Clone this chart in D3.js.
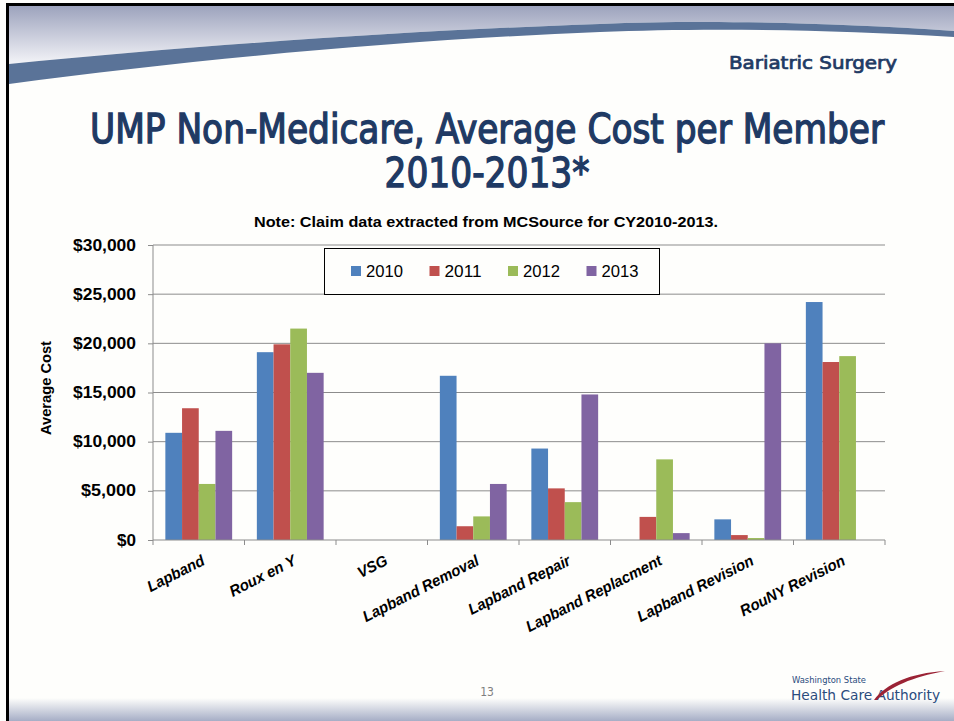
<!DOCTYPE html>
<html>
<head>
<meta charset="utf-8">
<script src="https://cdn.jsdelivr.net/npm/d3@7"></script>
<style>
  body { margin: 0; background: #ffffff; }
  svg { display: block; }
</style>
</head>
<body>
<div id="slide"></div>
<script>
var categories = ["Lapband", "Roux en Y", "VSG", "Lapband Removal", "Lapband Repair",
  "Lapband Replacment", "Lapband Revision", "RouNY Revision"];
var years = ["2010", "2011", "2012", "2013"];
var values2010 = [10900, 19100, 0, 16700, 9300, 0, 2100, 24200];
var values2011 = [13400, 19900, 0, 1400, 5250, 2350, 500, 18100];
var values2012 = [5700, 21500, 0, 2400, 3850, 8200, 200, 18700];
var values2013 = [11100, 17000, 0, 5700, 14800, 700, 20000, 0];
var yTicks = [0, 5000, 10000, 15000, 20000, 25000, 30000];
var colors = ["#4f81bd", "#c0504d", "#9bbb59", "#8064a2"];

var W = 954, H = 721;
var plotL = 153, plotR = 885, plotT = 245, plotB = 540;

var svg = d3.select("#slide").append("svg")
  .attr("width", W)
  .attr("height", H);

var defs = svg.append("defs");
var topGrad = defs.append("linearGradient")
  .attr("id", "topGrad").attr("x1", 0).attr("y1", 0).attr("x2", 0).attr("y2", 1);
topGrad.append("stop").attr("offset", "0%").attr("stop-color", "#9da3bd");
topGrad.append("stop").attr("offset", "100%").attr("stop-color", "#f4f4f8");
var botGrad = defs.append("linearGradient")
  .attr("id", "botGrad").attr("x1", 0).attr("y1", 0).attr("x2", 0).attr("y2", 1);
botGrad.append("stop").attr("offset", "0%").attr("stop-color", "#fefefc");
botGrad.append("stop").attr("offset", "100%").attr("stop-color", "#a6aec6");

// slide background
svg.append("rect")
  .attr("x", 0).attr("y", 0).attr("width", W).attr("height", H)
  .style("fill", "#fefefc");

// header swoosh: gradient area above, dark band below
svg.append("path")
  .attr("d", "M9,6 L954,6 L954,31 C820,22 700,20 600,24 C420,30 200,45 9,64 Z")
  .style("fill", "url(#topGrad)");
svg.append("path")
  .attr("d", "M9,64 C200,45 420,30 600,24 C700,20 820,22 954,31 L954,37 C820,29 700,28 600,32 C420,39 200,58 9,84 Z")
  .style("fill", "#5a7398");

// bottom band
svg.append("rect")
  .attr("x", 9).attr("y", 698).attr("width", W - 9).attr("height", H - 698)
  .style("fill", "url(#botGrad)");

// black frame (top and left)
svg.append("rect").attr("x", 6).attr("y", 3).attr("width", W - 6).attr("height", 3).style("fill", "#000");
svg.append("rect").attr("x", 6).attr("y", 3).attr("width", 3).attr("height", H - 3).style("fill", "#000");

svg.append("text")
  .attr("x", 897).attr("y", 69)
  .style("font-family", "'DejaVu Sans Condensed', sans-serif")
  .style("font-size", "18px")
  .style("text-anchor", "end")
  .style("fill", "#1f3a64")
  .style("stroke", "#1f3a64")
  .style("stroke-width", 0.7)
  .attr("textLength", 168)
  .attr("lengthAdjust", "spacingAndGlyphs")
  .text("Bariatric Surgery");

svg.append("text")
  .attr("x", 487).attr("y", 143)
  .style("font-family", "'DejaVu Sans Condensed', sans-serif")
  .style("font-size", "40px")
  .style("text-anchor", "middle")
  .style("fill", "#1f3a64")
  .style("stroke", "#1f3a64")
  .style("stroke-width", 1.3)
  .attr("textLength", 794)
  .attr("lengthAdjust", "spacingAndGlyphs")
  .text("UMP Non-Medicare, Average Cost per Member");

svg.append("text")
  .attr("x", 487).attr("y", 187)
  .style("font-family", "'DejaVu Sans Condensed', sans-serif")
  .style("font-size", "40px")
  .style("text-anchor", "middle")
  .style("fill", "#1f3a64")
  .style("stroke", "#1f3a64")
  .style("stroke-width", 1.3)
  .attr("textLength", 205)
  .attr("lengthAdjust", "spacingAndGlyphs")
  .text("2010-2013*");

svg.append("text")
  .attr("x", 486).attr("y", 227)
  .style("font-family", "'Liberation Sans', sans-serif")
  .style("font-size", "15px")
  .style("font-weight", "bold")
  .style("text-anchor", "middle")
  .style("fill", "#000")
  .attr("textLength", 464)
  .attr("lengthAdjust", "spacingAndGlyphs")
  .text("Note: Claim data extracted from MCSource for CY2010-2013.");

// scales
var x0 = d3.scaleBand().domain(categories).range([plotL, plotR]).padding(0);
var bw = x0.bandwidth();
var x1 = d3.scaleBand().domain(years).range([bw * 0.135, bw * 0.865]).padding(0);
var y = d3.scaleLinear().domain([0, 30000]).range([plotB, plotT]);

// gridlines
svg.append("g")
  .selectAll("line")
  .data(yTicks.slice(1))
  .join("line")
  .attr("x1", plotL).attr("x2", plotR)
  .attr("y1", function(d) { return y(d); })
  .attr("y2", function(d) { return y(d); })
  .style("stroke", "#8c8c8c")
  .style("stroke-width", 1);

// y axis
var yAxis = svg.append("g")
  .attr("transform", "translate(" + plotL + ",0)")
  .call(d3.axisLeft(y).tickValues(yTicks).tickSize(5).tickPadding(12)
    .tickFormat(function(d) { return "$" + d3.format(",")(d); }));
yAxis.select(".domain").style("stroke", "#8c8c8c").attr("d", "M0," + plotT + "V" + plotB);
yAxis.selectAll(".tick line").style("stroke", "#8c8c8c");
yAxis.selectAll("text")
  .style("font-family", "'Liberation Sans', sans-serif")
  .style("font-size", "16px")
  .style("font-weight", "bold")
  .style("fill", "#000")
  .attr("textLength", function(d) { return d === 0 ? 19 : (d < 10000 ? 55 : 63); })
  .attr("lengthAdjust", "spacingAndGlyphs");

svg.append("text")
  .attr("transform", "translate(51,388) rotate(-90)")
  .style("font-family", "'Liberation Sans', sans-serif")
  .style("font-size", "15px")
  .style("font-weight", "bold")
  .style("text-anchor", "middle")
  .style("fill", "#000")
  .attr("textLength", 94)
  .attr("lengthAdjust", "spacingAndGlyphs")
  .text("Average Cost");

// bars
var series = [values2010, values2011, values2012, values2013];
var barData = [];
categories.forEach(function(c, i) {
  years.forEach(function(yr, j) {
    barData.push({ cat: c, year: yr, value: series[j][i], color: colors[j] });
  });
});

svg.append("g")
  .selectAll("rect")
  .data(barData.filter(function(d) { return d.value > 0; }))
  .join("rect")
  .attr("x", function(d) { return x0(d.cat) + x1(d.year); })
  .attr("y", function(d) { return y(d.value); })
  .attr("width", x1.bandwidth())
  .attr("height", function(d) { return plotB - y(d.value); })
  .style("fill", function(d) { return d.color; });

// x axis
var xAxis = svg.append("g")
  .attr("transform", "translate(0," + plotB + ")");
xAxis.append("line")
  .attr("x1", plotL).attr("x2", plotR)
  .style("stroke", "#8c8c8c");
xAxis.selectAll(".tk")
  .data(d3.range(categories.length + 1))
  .join("line")
  .attr("class", "tk")
  .attr("x1", function(i) { return plotL + i * bw; })
  .attr("x2", function(i) { return plotL + i * bw; })
  .attr("y1", 0).attr("y2", 5)
  .style("stroke", "#8c8c8c");
xAxis.selectAll(".lbl")
  .data(categories)
  .join("text")
  .attr("class", "lbl")
  .attr("transform", function(d) {
    return "translate(" + (x0(d) + bw / 2 + 7) + ",24) rotate(-27)";
  })
  .style("font-family", "'Liberation Sans', sans-serif")
  .style("font-size", "15.5px")
  .style("font-weight", "bold")
  .style("font-style", "italic")
  .style("text-anchor", "end")
  .style("fill", "#000")
  .text(function(d) { return d; })
  .each(function() {
    var len = this.getComputedTextLength();
    d3.select(this).attr("textLength", len * 0.96).attr("lengthAdjust", "spacingAndGlyphs");
  });

// legend
var legend = svg.append("g");
legend.append("rect")
  .attr("x", 324.5).attr("y", 248.5).attr("width", 335).attr("height", 46)
  .style("fill", "#fefefc")
  .style("stroke", "#000")
  .style("stroke-width", 1);
var lg = legend.selectAll(".item")
  .data(years)
  .join("g")
  .attr("class", "item")
  .attr("transform", function(d, i) { return "translate(" + (351 + i * 78.5) + ",266)"; });
lg.append("rect")
  .attr("width", 10).attr("height", 10)
  .style("fill", function(d, i) { return colors[i]; });
lg.append("text")
  .attr("x", 15).attr("y", 11)
  .style("font-family", "'Liberation Sans', sans-serif")
  .style("font-size", "16px")
  .style("fill", "#000")
  .attr("textLength", 37)
  .attr("lengthAdjust", "spacingAndGlyphs")
  .text(function(d) { return d; });

// page number
svg.append("text")
  .attr("x", 487).attr("y", 696)
  .style("font-family", "'DejaVu Sans Condensed', sans-serif")
  .style("font-size", "12px")
  .style("text-anchor", "middle")
  .style("fill", "#7f7f7f")
  .text("13");

// logo
svg.append("text")
  .attr("x", 792).attr("y", 683)
  .style("font-family", "'DejaVu Sans Condensed', sans-serif")
  .style("font-size", "8.5px")
  .style("fill", "#2b4c7e")
  .attr("textLength", 74)
  .attr("lengthAdjust", "spacingAndGlyphs")
  .text("Washington State");
svg.append("text")
  .attr("x", 791).attr("y", 700)
  .style("font-family", "'DejaVu Sans Condensed', sans-serif")
  .style("font-size", "14px")
  .style("fill", "#2b4c7e")
  .attr("textLength", 149)
  .attr("lengthAdjust", "spacingAndGlyphs")
  .text("Health Care Authority");
svg.append("path")
  .attr("d", "M874,700 C886,684 910,673 945,671 C912,677 890,687 877,700 Z")
  .style("fill", "#9b2335");
</script>
</body>
</html>
